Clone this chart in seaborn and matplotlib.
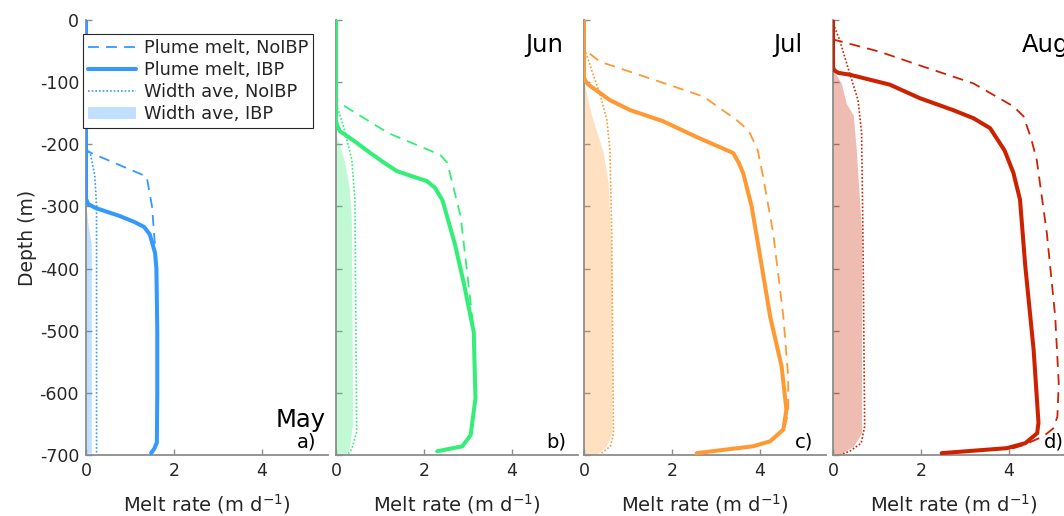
import numpy as np
import pandas as pd
import matplotlib
matplotlib.use("Agg")
import matplotlib.pyplot as plt
import seaborn as sns
from matplotlib.lines import Line2D
from matplotlib.patches import Patch

# ---------------- data ----------------
months = ["May", "Jun", "Jul", "Aug"]
panel_tags = ["a)", "b)", "c)", "d)"]
colors = ["#3399FF", "#33EE77", "#FF9933", "#CC2200"]

# May
may_ibp_depth = [0, -288, -296, -302, -308, -315, -325, -333, -345, -375, -400, -500, -600, -680, -690, -697]
may_ibp_melt = [0, 0, 0.05, 0.2, 0.45, 0.75, 1.1, 1.32, 1.45, 1.57, 1.6, 1.62, 1.62, 1.61, 1.55, 1.48]
may_noibp_depth = [0, -205, -212, -252, -300, -374, -400, -500, -600, -680, -690, -697]
may_noibp_melt = [0, 0, 0.05, 1.38, 1.5, 1.58, 1.6, 1.62, 1.62, 1.61, 1.55, 1.48]
may_wnoibp_depth = [0, -205, -215, -250, -300, -690, -697]
may_wnoibp_melt = [0, 0, 0.1, 0.2, 0.24, 0.24, 0.24]
may_wibp_depth = [0, -300, -330, -360, -697]
may_wibp_melt = [0, 0, 0.05, 0.12, 0.12]

# Jun
jun_ibp_depth = [0, -162, -170, -179, -195, -214, -230, -243, -252, -259, -270, -290, -310, -360, -422, -502, -609, -668, -686, -694]
jun_ibp_melt = [0, 0, 0.03, 0.09, 0.42, 0.78, 1.1, 1.38, 1.75, 2.06, 2.25, 2.42, 2.5, 2.7, 2.9, 3.13, 3.17, 3.06, 2.87, 2.3]
jun_noibp_depth = [0, -130, -134, -182, -217, -230, -315, -406, -481, -500, -609, -668, -686, -694]
jun_noibp_melt = [0, 0, 0.09, 1.19, 2.37, 2.53, 2.83, 2.98, 3.1, 3.13, 3.17, 3.06, 2.87, 2.3]
jun_wnoibp_depth = [0, -134, -171, -225, -289, -663, -690, -698]
jun_wnoibp_melt = [0, 0, 0.17, 0.36, 0.43, 0.47, 0.36, 0.28]
jun_wibp_depth = [0, -185, -200, -230, -270, -320, -650, -690, -700]
jun_wibp_melt = [0, 0, 0.08, 0.2, 0.3, 0.35, 0.38, 0.3, 0.2]

# Jul
jul_ibp_depth = [0, -92, -98, -104, -129, -145, -163, -188, -214, -230, -247, -300, -396, -477, -557, -627, -659, -678, -686, -697]
jul_ibp_melt = [0, 0, 0.03, 0.1, 0.59, 1.05, 1.8, 2.55, 3.39, 3.52, 3.62, 3.81, 4.04, 4.23, 4.49, 4.6, 4.53, 4.23, 3.84, 2.56]
jul_noibp_depth = [0, -45, -48, -67, -96, -123, -160, -169, -182, -210, -252, -343, -477, -573, -632, -659, -678, -686, -697]
jul_noibp_melt = [0, 0, 0.02, 0.36, 1.58, 2.71, 3.45, 3.6, 3.77, 3.95, 4.07, 4.3, 4.53, 4.64, 4.64, 4.55, 4.25, 3.86, 2.56]
jul_wnoibp_depth = [0, -45, -48, -86, -118, -161, -209, -343, -665, -686, -699]
jul_wnoibp_melt = [0, 0, 0.02, 0.2, 0.36, 0.52, 0.59, 0.63, 0.67, 0.6, 0.36]
jul_wibp_depth = [0, -94, -120, -153, -214, -263, -396, -665, -686, -699]
jul_wibp_melt = [0, 0, 0.06, 0.17, 0.44, 0.55, 0.63, 0.63, 0.5, 0.29]

# Aug
aug_ibp_depth = [0, -76, -81, -85, -88, -104, -126, -145, -158, -174, -210, -246, -289, -396, -531, -648, -665, -681, -689, -697]
aug_ibp_melt = [0, 0, 0.03, 0.12, 0.38, 1.29, 1.98, 2.73, 3.19, 3.57, 3.9, 4.1, 4.25, 4.37, 4.56, 4.67, 4.64, 4.37, 3.95, 2.47]
aug_noibp_depth = [0, -30, -32, -51, -75, -102, -139, -155, -190, -225, -343, -477, -584, -638, -657, -670, -684, -689, -697]
aug_noibp_melt = [0, 0, 0.04, 1.06, 2.05, 3.19, 4.1, 4.33, 4.5, 4.63, 4.86, 5.05, 5.13, 5.1, 5.01, 4.78, 4.33, 4.1, 2.47]
aug_wnoibp_depth = [0, -5, -32, -86, -129, -182, -343, -654, -681, -694, -700]
aug_wnoibp_melt = [0, 0, 0.15, 0.38, 0.57, 0.65, 0.68, 0.72, 0.64, 0.38, 0.15]
aug_wibp_depth = [0, -80, -102, -134, -153, -209, -343, -665, -686, -699]
aug_wibp_melt = [0, 0, 0.19, 0.3, 0.46, 0.53, 0.65, 0.65, 0.46, 0.15]

y_ticks = [-700, -600, -500, -400, -300, -200, -100, 0]
x_ticks = [0, 2, 4]

panels = [
    (may_ibp_depth, may_ibp_melt, may_noibp_depth, may_noibp_melt,
     may_wnoibp_depth, may_wnoibp_melt, may_wibp_depth, may_wibp_melt),
    (jun_ibp_depth, jun_ibp_melt, jun_noibp_depth, jun_noibp_melt,
     jun_wnoibp_depth, jun_wnoibp_melt, jun_wibp_depth, jun_wibp_melt),
    (jul_ibp_depth, jul_ibp_melt, jul_noibp_depth, jul_noibp_melt,
     jul_wnoibp_depth, jul_wnoibp_melt, jul_wibp_depth, jul_wibp_melt),
    (aug_ibp_depth, aug_ibp_melt, aug_noibp_depth, aug_noibp_melt,
     aug_wnoibp_depth, aug_wnoibp_melt, aug_wibp_depth, aug_wibp_melt),
]

# ---------------- style ----------------
sns.set_theme(style="white")
plt.rcParams["font.family"] = ["DejaVu Sans"]
TXT = "#262626"
SPINE = "#8c8c8c"
DASH = (0, (6, 4))
DOT = (0, (1, 1.2))

fig = plt.figure(figsize=(10.64, 5.16), dpi=100)
W, H = 1064, 516
ax_lefts = [86, 336, 584, 833]
ax_w = 242
ax_top, ax_bot = 20, 455

for i, lx in enumerate(ax_lefts):
    ax = fig.add_axes([lx / W, (H - ax_bot) / H, ax_w / W, (ax_bot - ax_top) / H])
    d_ibp, m_ibp, d_no, m_no, d_wno, m_wno, d_wibp, m_wibp = panels[i]
    c = colors[i]

    ax.fill_betweenx(d_wibp, 0, m_wibp, color=c, alpha=0.3, linewidth=0, zorder=1)
    sns.lineplot(x=m_wno, y=d_wno, sort=False, estimator=None, ax=ax,
                 color=c, linewidth=1.2, linestyle=DOT, zorder=2)
    sns.lineplot(x=m_no, y=d_no, sort=False, estimator=None, ax=ax,
                 color=c, linewidth=1.3, linestyle=DASH, zorder=3)
    sns.lineplot(x=m_ibp, y=d_ibp, sort=False, estimator=None, ax=ax,
                 color=c, linewidth=2.9, zorder=4)

    ax.set_xlim(0, 5.5)
    ax.set_ylim(-700, 0)
    ax.set_xticks(x_ticks)
    ax.set_yticks(y_ticks)
    ax.tick_params(direction="in", length=4, width=1, color=SPINE,
                   labelsize=12.5, labelcolor=TXT, pad=5,
                   left=True, bottom=True)
    for s in ["top", "right"]:
        ax.spines[s].set_visible(False)
    for s in ["left", "bottom"]:
        ax.spines[s].set_color(SPINE)
        ax.spines[s].set_linewidth(1.3)
    ax.set_xlabel("Melt rate (m d$^{-1}$)", fontsize=14, color=TXT, labelpad=9)
    if i == 0:
        ax.set_ylabel("Depth (m)", fontsize=13.5, color=TXT, labelpad=2)
        ax.set_yticklabels([str(t) for t in y_ticks])
        ax.text(0.785, 0.08, months[i], transform=ax.transAxes, ha="left",
                va="center", fontsize=17.5, color="black")
    else:
        ax.set_ylabel("")
        ax.set_yticklabels([])
        ax.text(0.78, 0.943, months[i], transform=ax.transAxes, ha="left",
                va="center", fontsize=17.5, color="black")
    ax.set_xticklabels([str(t) for t in x_ticks])
    ax.text(0.87, 0.03, panel_tags[i], transform=ax.transAxes, ha="left",
            va="center", fontsize=14, color="black")
    ax.patch.set_alpha(0)

    if i == 0:
        handles = [
            Line2D([], [], color=c, linewidth=1.3, linestyle=DASH),
            Line2D([], [], color=c, linewidth=2.9),
            Line2D([], [], color=c, linewidth=1.2, linestyle=DOT),
            Patch(facecolor=c, alpha=0.3, edgecolor="none"),
        ]
        labels = ["Plume melt, NoIBP", "Plume melt, IBP",
                  "Width ave, NoIBP", "Width ave, IBP"]
        leg = ax.legend(handles, labels, loc="upper left",
                        bbox_to_anchor=(-0.012, 0.968), borderaxespad=0,
                        fontsize=12.8, frameon=True, fancybox=False,
                        edgecolor="#262626", framealpha=1, handlelength=2.7,
                        handletextpad=0.4, labelspacing=0.22, borderpad=0.3)
        leg.get_frame().set_linewidth(0.8)
        leg.set_zorder(10)

fig.savefig("out.png", dpi=100)
